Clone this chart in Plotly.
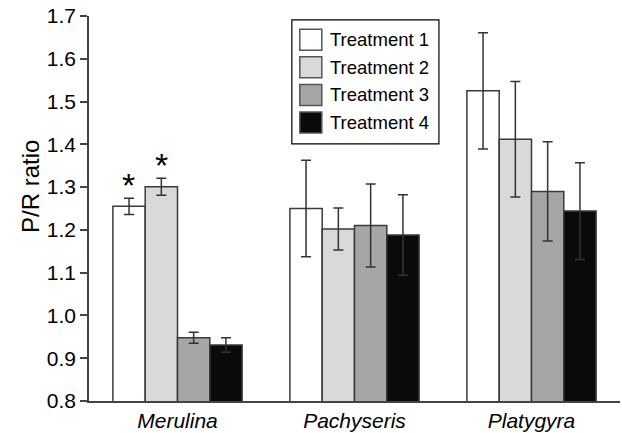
import plotly.graph_objects as go

categories = ["Merulina", "Pachyseris", "Platygyra"]
series_names = ["Treatment 1", "Treatment 2", "Treatment 3", "Treatment 4"]
values = [
    [1.255, 1.250, 1.525],
    [1.301, 1.202, 1.412],
    [0.948, 1.210, 1.290],
    [0.931, 1.188, 1.244],
]
errors = [
    [0.019, 0.113, 0.136],
    [0.020, 0.049, 0.135],
    [0.013, 0.097, 0.116],
    [0.017, 0.094, 0.113],
]
colors = ["#ffffff", "#d9d9d9", "#a6a6a6", "#0a0a0a"]
significant = [(0, 0), (1, 0)]  # (series, category) marked with *

FONT = "Liberation Sans"
EDGE = "#3a3a3a"

W, H = 622, 433
L, R, T, B = 89, 2, 16, 32
PW = W - L - R
PH = H - T - B

fig = go.Figure()
for name, vals, errs, col in zip(series_names, values, errors, colors):
    fig.add_trace(go.Bar(
        x=categories, y=vals, name=name,
        marker=dict(color=col, line=dict(color=EDGE, width=1.5)),
        error_y=dict(type="data", array=errs, visible=True,
                     color="#333333", thickness=1.5, width=5),
        showlegend=False,
    ))

# asterisks above significant bars
bar_px = 32.4
for s, c in significant:
    offset = (s - 1.5) * bar_px
    fig.add_annotation(
        x=categories[c], y=values[s][c] + errors[s][c],
        text="*", showarrow=False, xshift=offset, yshift=-7.5,
        yanchor="bottom", font=dict(family=FONT, size=34, color="black"),
    )

# legend box drawn in paper coordinates
lx0, lx1, ly0, ly1 = 0.382, 0.659, 0.668, 0.990
fig.add_shape(type="rect", xref="paper", yref="paper",
              x0=lx0, x1=lx1, y0=ly0, y1=ly1,
              line=dict(color="black", width=1.2), fillcolor="white")
sw_w = 22 / PW
sw_h = 21 / PH
step = 27.6 / PH
first_center = (401 - 39.7) / PH
for i, (name, col) in enumerate(zip(series_names, colors)):
    cy = first_center - i * step
    fig.add_shape(type="rect", xref="paper", yref="paper",
                  x0=0.397, x1=0.397 + sw_w, y0=cy - sw_h / 2, y1=cy + sw_h / 2,
                  line=dict(color="#555555", width=1.5), fillcolor=col)
    fig.add_annotation(xref="paper", yref="paper", x=0.4495, y=cy,
                       text=name, showarrow=False, xanchor="left", yanchor="middle",
                       font=dict(family=FONT, size=18.5, color="black"))

# y-axis title
fig.add_annotation(xref="paper", yref="paper", x=(30 - 89) / PW, y=(401 - 187) / PH,
                   text="P/R ratio", textangle=-90, showarrow=False,
                   xanchor="center", yanchor="middle",
                   font=dict(family=FONT, size=24, color="black"))

fig.update_layout(
    width=W, height=H,
    margin=dict(l=L, r=R, t=T, b=B, autoexpand=False),
    plot_bgcolor="white", paper_bgcolor="white",
    barmode="group", bargap=0.27, bargroupgap=0,
    font=dict(family=FONT, color="black"),
)
fig.update_xaxes(
    range=[-0.5, 2.5], showline=True, linecolor="#444444", linewidth=1.5,
    ticks="", showgrid=False, automargin=False, ticklabeloverflow="allow",
    tickvals=categories, ticktext=[f"<i>{c}</i>" for c in categories],
    tickfont=dict(family=FONT, size=21, color="black"),
)
fig.update_yaxes(
    range=[0.8, 1.7], dtick=0.1, tick0=0.8, tickformat=".1f",
    showline=True, linecolor="#444444", linewidth=1.5,
    ticks="outside", ticklen=7, tickwidth=1.5, tickcolor="#444444",
    showgrid=False, zeroline=False, automargin=False, ticklabeloverflow="allow",
    tickfont=dict(family=FONT, size=21, color="black"),
)

# remove the default 8px page margin so the figure fills the window exactly
fig.write_html("out.html",
               config={"displayModeBar": False},
               post_script="document.body.style.margin='0';document.body.style.overflow='hidden';")
